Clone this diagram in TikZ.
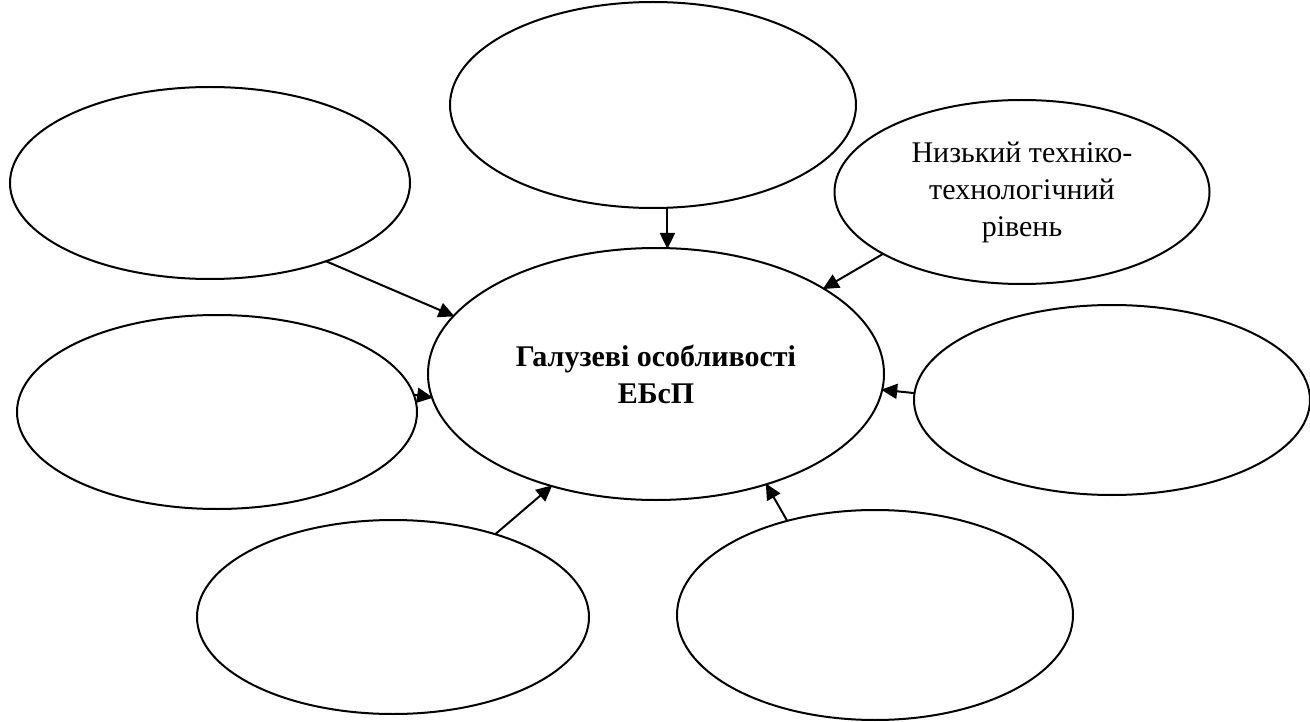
\documentclass[tikz,border=0pt]{standalone}
\usepackage{fontspec}
\setmainfont{Liberation Serif}
\usetikzlibrary{shapes.geometric,arrows.meta}
\tikzset{
  oval/.style={draw=black, line width=2pt, ellipse, inner sep=0pt, outer sep=0pt, align=center},
  arr/.style={line width=2pt, -{Triangle[length=16pt,width=15pt]}, shorten >=-1pt},
  lbl/.style={font=\fontsize{30}{37}\selectfont}
}
\begin{document}
\begin{tikzpicture}[x=1pt,y=-1pt]
\useasboundingbox (0,0) rectangle (1310,722);
\node[oval, minimum width=406pt, minimum height=206pt] (tc) at (653,105) {};
\node[oval, minimum width=400pt, minimum height=192pt] (tl) at (210,183) {};
\node[oval, minimum width=375pt, minimum height=184pt, lbl] (tr) at (1022,192) {Низький техніко-\\технологічний\\рівень};
\node[oval, minimum width=456pt, minimum height=252pt, font=\fontsize{30}{37}\selectfont\bfseries] (c) at (656,374) {Галузеві особливості\\ЕБсП};
\node[oval, minimum width=400pt, minimum height=194pt] (ml) at (217,412) {};
\node[oval, minimum width=396pt, minimum height=190pt] (mr) at (1112,400) {};
\node[oval, minimum width=392pt, minimum height=194pt] (bl) at (393,617) {};
\node[oval, minimum width=396pt, minimum height=210pt] (br) at (875,615) {};
\draw[arr] (tc.-82) -- (tc.-82 |- c.north);
\draw[arr] (tl.-34) -- (c.164);
\draw[arr] (tr.204) -- (c.27);
\draw[arr] (ml.5) -- (c.186);
\draw[arr] (mr.178) -- (c.-4.5);
\draw[arr] (bl.39) -- (c.227);
\draw[arr] (br.133) -- (c.-45);
\end{tikzpicture}
\end{document}
